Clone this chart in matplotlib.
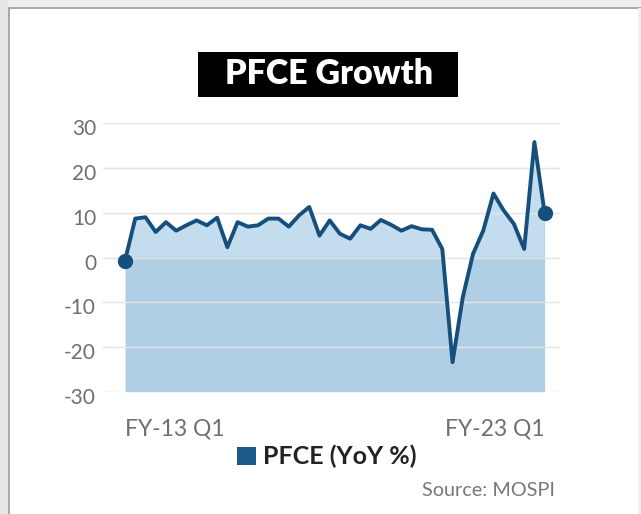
import numpy as np
import matplotlib
matplotlib.use("Agg")
import matplotlib.pyplot as plt
from matplotlib.patches import Rectangle
from matplotlib.transforms import ScaledTranslation

plt.rcParams["font.family"] = ["Lato", "DejaVu Sans"]
plt.rcParams["axes.unicode_minus"] = False

# Quarterly PFCE growth, FY-13 Q1 to FY-23 Q2 (YoY %)
quarters = [f"FY-{13 + i // 4} Q{i % 4 + 1}" for i in range(42)]
pfce_growth = [-0.7, 8.7, 9.0, 5.7, 7.9, 6.0, 7.2, 8.3, 7.2, 8.9,
               2.3, 7.9, 6.9, 7.2, 8.7, 8.7, 6.9, 9.4, 11.3, 4.9,
               8.3, 5.3, 4.2, 7.2, 6.4, 8.4, 7.3, 6.0, 7.0, 6.3,
               6.2, 1.9, -23.4, -8.9, 0.8, 6.0, 14.3, 10.5, 7.5, 1.9,
               25.8, 9.9]
y_ticks = [-30, -20, -10, 0, 10, 20, 30]
x_tick_labels = ["FY-13 Q1", "FY-23 Q1"]

line_color = "#174f7c"
fill_dark = "#b1cfe4"
fill_light = "#c4ddee"

W, H = 641, 514
fig = plt.figure(figsize=(W / 100, H / 100), dpi=100, facecolor="white")

# page frame: grey band with a darker edge on top and left
def px_rect(x0, y0, w, h, color):
    fig.patches.append(Rectangle((x0 / W, 1 - (y0 + h) / H), w / W, h / H,
                                 transform=fig.transFigure, color=color,
                                 lw=0, zorder=0))

px_rect(0, 0, W, 7, "#eeeeee")
px_rect(0, 0, 8, H, "#e6e6e6")
px_rect(8, 7, W - 8, 1.5, "#a9a9a9")
px_rect(8, 7, 1.5, H - 7, "#a9a9a9")
px_rect(638, 8, 3, H - 8, "#f0f0f0")

ax = fig.add_axes([103 / W, 1 - 391.7 / H, (560 - 103) / W, (391.7 - 123.3) / H])
x = np.arange(len(quarters))
y = np.array(pfce_growth)

ax.fill_between(x, y, -30, color=fill_dark, lw=0, zorder=1)
ax.fill_between(x, y, 0, where=y > 0, interpolate=True, color=fill_light,
                lw=0, zorder=1.2)
ax.plot(x, y, color=line_color, lw=2.8, zorder=3)
ax.plot([x[0], x[-1]], [y[0], y[-1]], "o", color=line_color, ms=10, zorder=4)

ax.set_xlim(-2.15, 42.5)
ax.set_ylim(-30, 30)
ax.set_yticks(y_ticks)
ax.grid(axis="y", color="#e4e4e4", lw=1)
ax.set_axisbelow(False)
for s in ax.spines.values():
    s.set_visible(False)
ax.tick_params(axis="both", length=0, colors="#6f6f6f")
ax.tick_params(axis="y", pad=5, labelsize=15)
ax.tick_params(axis="x", pad=19, labelsize=16.5)

ax.set_xticks([0, len(quarters) - 1])
ax.set_xticklabels(x_tick_labels)
xl = ax.get_xticklabels()
xl[0].set_ha("left")
xl[1].set_ha("right")

offset = ScaledTranslation(0, -4 / 100, fig.dpi_scale_trans)
for lbl in ax.get_yticklabels():
    lbl.set_transform(lbl.get_transform() + offset)

# title block
px_rect(198, 52, 260, 45, "black")
fig.text(329 / W, 1 - 74 / H, "PFCE Growth", color="white", fontsize=24.5,
         fontweight="heavy", ha="center", va="center")

# legend
px_rect(237, 447, 19, 18, "#1d5a8a")
fig.text(263 / W, 1 - 456 / H, "PFCE (YoY %)", color="#222222", fontsize=18,
         fontweight="bold", ha="left", va="center")

fig.text(555 / W, 1 - 491 / H, "Source: MOSPI", color="#777777", fontsize=14.3,
         ha="right", va="center")

fig.savefig("out.png", dpi=100, facecolor="white")
